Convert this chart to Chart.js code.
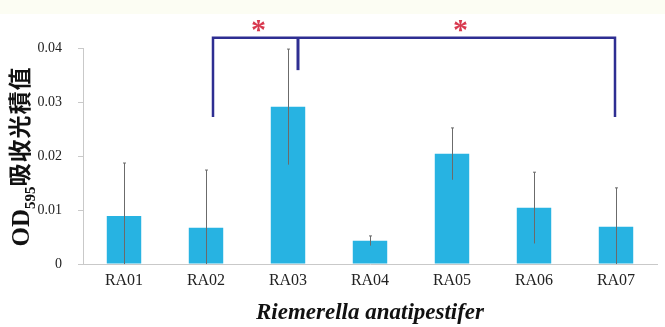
<!DOCTYPE html>
<html>
<head>
<meta charset="utf-8">
<script src="https://cdn.jsdelivr.net/npm/chart.js@4.4.1/dist/chart.umd.min.js"></script>
<style>
html,body{margin:0;padding:0;background:#fff;}
#wrap{width:665px;height:327px;}
</style>
</head>
<body>
<div id="wrap"><canvas id="c" width="665" height="327"></canvas></div>
<script>
// ---- data ----
const categories = ['RA01','RA02','RA03','RA04','RA05','RA06','RA07'];
const odValues   = [0.0089, 0.0067, 0.0291, 0.0043, 0.0204, 0.0104, 0.0069];
const odErrors   = [0.0098, 0.0107, 0.0107, 0.0009, 0.0048, 0.0066, 0.0072];
const yTicks     = [0, 0.01, 0.02, 0.03, 0.04];
const yTickLabels = ['0', '0.01', '0.02', '0.03', '0.04'];
const xTitle = 'Riemerella anatipestifer';
const yTitleParts = ['OD', '595', '吸收光積值'];
// significance bracket: legs at categories, joined by a bar
const bracketLegs = [1, 2, 6];          // RA02, RA03, RA07
const bracketTop = 0.0419;
const bracketLegEnds = [0.0272, 0.0359, 0.0272];
const sigMarks = ['*', '*'];

const BAR_COLOR = '#27b3e2';
const ERR_COLOR = '#6b6b6b';
const BRACKET_COLOR = '#2e2e92';
const STAR_COLOR = '#d8394f';

const bgPlugin = {
  id: 'bg',
  beforeDraw(chart) {
    const ctx = chart.ctx;
    ctx.save();
    ctx.fillStyle = '#ffffff';
    ctx.fillRect(0, 0, chart.width, chart.height);
    ctx.fillStyle = '#fcfdf3';
    ctx.fillRect(0, 0, chart.width, 14);
    ctx.restore();
  }
};

const errPlugin = {
  id: 'errbars',
  afterDatasetsDraw(chart) {
    const ctx = chart.ctx;
    const xs = chart.scales.x, ys = chart.scales.y;
    ctx.save();
    ctx.strokeStyle = ERR_COLOR;
    ctx.lineWidth = 1;
    odValues.forEach((v, i) => {
      const x = Math.round(xs.getPixelForValue(i)) + 0.5;
      const hi = ys.getPixelForValue(v + odErrors[i]);
      const lo = ys.getPixelForValue(Math.max(0, v - odErrors[i]));
      ctx.beginPath();
      ctx.moveTo(x, hi);
      ctx.lineTo(x, lo);
      ctx.stroke();
      ctx.beginPath();
      ctx.moveTo(x - 1.5, hi); ctx.lineTo(x + 1.5, hi);
      ctx.stroke();
    });
    ctx.restore();
  }
};

const annPlugin = {
  id: 'ann',
  afterDraw(chart) {
    const ctx = chart.ctx;
    const xs = chart.scales.x, ys = chart.scales.y;
    const offsets = [7, 10, -1];
    const px = bracketLegs.map((c, k) => xs.getPixelForValue(c) + offsets[k]);
    const top = ys.getPixelForValue(bracketTop);
    ctx.save();
    ctx.strokeStyle = BRACKET_COLOR;
    ctx.lineWidth = 2.5;
    ctx.lineCap = 'butt';
    ctx.beginPath();
    ctx.moveTo(px[0], ys.getPixelForValue(bracketLegEnds[0]));
    ctx.lineTo(px[0], top);
    ctx.lineTo(px[2], top);
    ctx.lineTo(px[2], ys.getPixelForValue(bracketLegEnds[2]));
    ctx.stroke();
    ctx.lineWidth = 3;
    ctx.beginPath();
    ctx.moveTo(px[1], top);
    ctx.lineTo(px[1], ys.getPixelForValue(bracketLegEnds[1]));
    ctx.stroke();
    // stars
    ctx.fillStyle = STAR_COLOR;
    ctx.font = 'bold 30px "Liberation Serif", serif';
    ctx.textAlign = 'center';
    ctx.textBaseline = 'alphabetic';
    const starX = [(px[0] + px[1]) / 2 + 3, (px[1] + px[2]) / 2 + 4];
    sigMarks.forEach((s, k) => ctx.fillText(s, starX[k], 39));
    // y-axis title with subscript
    ctx.fillStyle = '#111';
    ctx.translate(29, 157);
    ctx.rotate(-Math.PI / 2);
    const f1 = 'bold 25px "Liberation Serif", serif';
    const f2 = 'bold 15px "Liberation Serif", serif';
    const f3 = 'bold 23px "Noto Sans CJK TC", serif';
    ctx.font = f1; const w1 = ctx.measureText(yTitleParts[0]).width;
    ctx.font = f2; const w2 = ctx.measureText(yTitleParts[1]).width;
    ctx.font = f3; const w3 = ctx.measureText(yTitleParts[2]).width + 4;
    let x0 = -(w1 + w2 + w3) / 2;
    ctx.textAlign = 'left';
    ctx.font = f1; ctx.fillText(yTitleParts[0], x0, 0); x0 += w1;
    ctx.font = f2; ctx.fillText(yTitleParts[1], x0, 6); x0 += w2;
    ctx.font = f3;
    ctx.letterSpacing = '1px';
    ctx.fillText(yTitleParts[2], x0, -1);
    ctx.restore();
  }
};

new Chart(document.getElementById('c'), {
  type: 'bar',
  data: {
    labels: categories,
    datasets: [{
      data: odValues,
      backgroundColor: BAR_COLOR,
      borderWidth: 0,
      categoryPercentage: 1,
      barPercentage: 0.42
    }]
  },
  options: {
    responsive: false,
    animation: false,
    events: [],
    layout: { padding: { left: 0, right: 8, top: 48, bottom: 0 } },
    plugins: { legend: { display: false }, tooltip: { enabled: false } },
    scales: {
      x: {
        grid: { display: false, drawTicks: false },
        border: { display: true, color: '#c9c9c9', width: 1 },
        ticks: { color: '#222', padding: 7, font: { family: '"Liberation Serif", serif', size: 16 } },
        title: { display: true, text: xTitle, color: '#111', padding: { top: 0, bottom: 0 },
                 font: { family: '"Liberation Serif", serif', size: 23, style: 'italic', weight: 'bold' } },
        afterFit(s) { s.height = 63; }
      },
      y: {
        min: 0, max: 0.04,
        afterBuildTicks(s) { s.ticks = yTicks.map(v => ({ value: v })); },
        grid: { drawOnChartArea: false, drawTicks: true, tickLength: 5, color: '#c9c9c9' },
        border: { display: true, color: '#c9c9c9', width: 1 },
        ticks: {
          color: '#222', padding: 16,
          font: { family: '"Liberation Serif", serif', size: 14 },
          callback(v) { const i = yTicks.indexOf(v); return i >= 0 ? yTickLabels[i] : ''; }
        },
        afterFit(s) { s.width = 83; }
      }
    }
  },
  plugins: [bgPlugin, errPlugin, annPlugin]
});
</script>
</body>
</html>
